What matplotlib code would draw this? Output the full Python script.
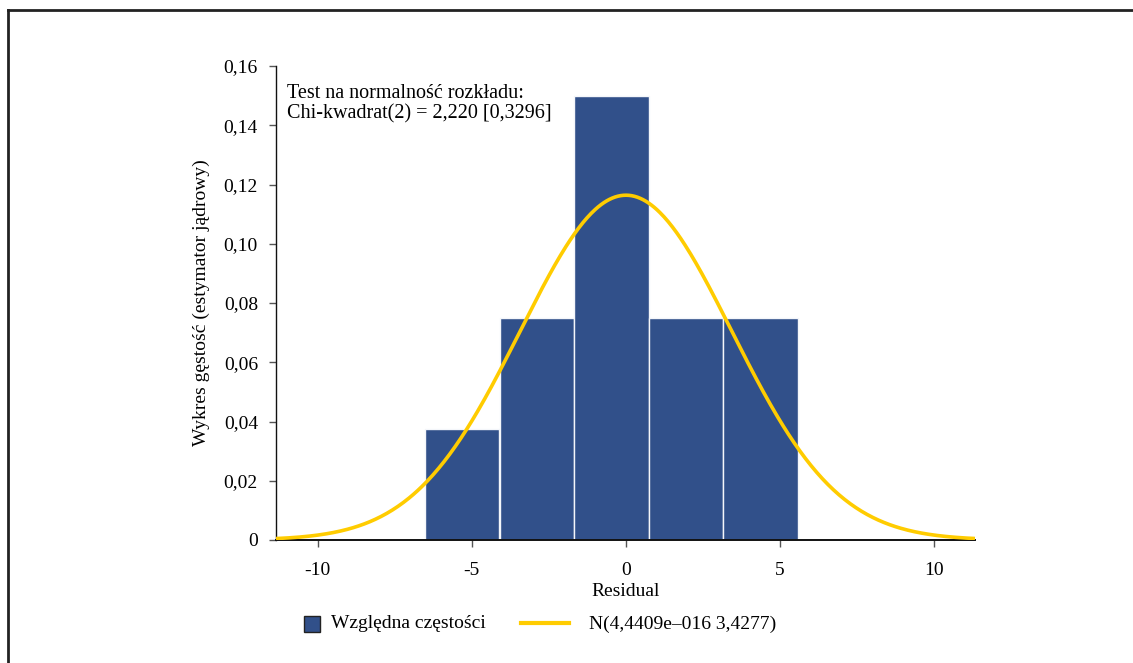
import numpy as np
import matplotlib
matplotlib.use("Agg")
import matplotlib.pyplot as plt
from matplotlib.patches import Rectangle
from matplotlib.lines import Line2D
from matplotlib.ticker import FuncFormatter

plt.rcParams['font.family'] = ['Liberation Serif', 'DejaVu Serif']
plt.rcParams['font.size'] = 14
plt.rcParams['axes.unicode_minus'] = False

# histogram of residuals (relative frequency density)
bin_left = [-6.52, -4.09, -1.67, 0.74, 3.16]
bin_width = 2.414
bin_height = [0.0375, 0.075, 0.15, 0.075, 0.075]

# fitted normal N(mu, sigma)
mu = 4.4409e-16
sigma = 3.4277

x_ticks = [-10, -5, 0, 5, 10]
y_ticks = [0, 0.02, 0.04, 0.06, 0.08, 0.10, 0.12, 0.14, 0.16]

bar_color = '#31508a'
curve_color = '#ffcc00'

W, H = 1133, 663
def fx(px):
    return px / W
def fy(py):
    return 1 - py / H

fig = plt.figure(figsize=(W / 100, H / 100), dpi=100)
ax = fig.add_axes([fx(276), fy(540), fx(975) - fx(276), (540 - 66) / H])

ax.bar(bin_left, bin_height, width=bin_width, align='edge',
       color=bar_color, edgecolor='#f4f6fa', linewidth=1.0, zorder=2)

xmin, xmax = -11.35, 11.32
xs = np.linspace(xmin, xmax, 500)
ys = np.exp(-0.5 * ((xs - mu) / sigma) ** 2) / (sigma * np.sqrt(2 * np.pi))
ax.plot(xs, ys, color=curve_color, linewidth=2.6, zorder=3, solid_capstyle='butt')

ax.set_xlim(xmin, xmax)
ax.set_ylim(0, 0.16)
ax.set_xticks(x_ticks)
ax.set_yticks(y_ticks)
ax.yaxis.set_major_formatter(FuncFormatter(
    lambda v, p: '0' if abs(v) < 1e-9 else f'{v:.2f}'.replace('.', ',')))

for s in ['top', 'right']:
    ax.spines[s].set_visible(False)
ax.spines['left'].set_color('#111111')
ax.spines['bottom'].set_color('#111111')
ax.spines['left'].set_linewidth(1.0)
ax.spines['bottom'].set_linewidth(1.4)
ax.tick_params(axis='both', direction='out', length=5, width=1, color='#555555')
ax.tick_params(axis='y', pad=8)
ax.tick_params(axis='x', pad=11)

ax.set_xlabel('Residual', labelpad=3)
ax.set_ylabel('Wykres gęstość (estymator jądrowy)', labelpad=10)

ax.text(0.016, 0.962, 'Test na normalność rozkładu:\nChi-kwadrat(2) = 2,220 [0,3296]',
        transform=ax.transAxes, va='top', ha='left', linespacing=1.1, fontsize=14.5)

# outer frame (cut at the right and bottom)
fig.add_artist(Line2D([fx(8), 1], [fy(10), fy(10)], color='#222222', linewidth=2))
fig.add_artist(Line2D([fx(8), fx(8)], [fy(10), 0], color='#222222', linewidth=2))

# legend below the plot
fig.add_artist(Rectangle((fx(304), fy(632)), 16 / W, 16 / H,
                         facecolor=bar_color, edgecolor='#222222', linewidth=1))
fig.text(fx(331), fy(624), 'Względna częstości', va='center', ha='left')
fig.add_artist(Line2D([fx(521), fx(569)], [fy(623), fy(623)],
                      color=curve_color, linewidth=3))
fig.text(fx(589), fy(624), 'N(4,4409e–016 3,4277)', va='center', ha='left')

fig.savefig('out.png', dpi=100)
